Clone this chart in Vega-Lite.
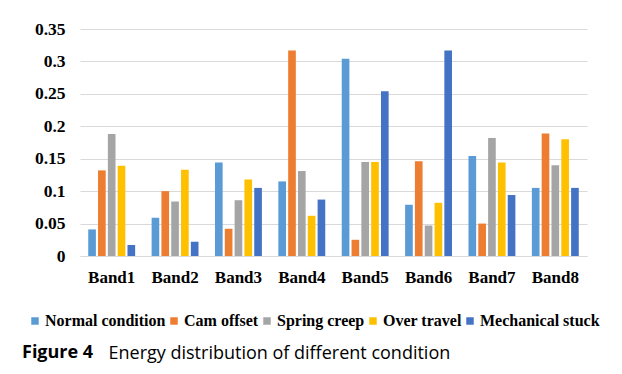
{
  "$schema": "https://vega.github.io/schema/vega-lite/v6.json",
  "width": 507,
  "height": 227,
  "autosize": "none",
  "padding": {"left": 80, "top": 29, "right": 35, "bottom": 118},
  "background": "white",
  "data": {
    "values": [
      {"band": "Band1", "condition": "Normal condition", "value": 0.041},
      {"band": "Band1", "condition": "Cam offset", "value": 0.132},
      {"band": "Band1", "condition": "Spring creep", "value": 0.188},
      {"band": "Band1", "condition": "Over travel", "value": 0.139},
      {"band": "Band1", "condition": "Mechanical stuck", "value": 0.017},
      {"band": "Band2", "condition": "Normal condition", "value": 0.059},
      {"band": "Band2", "condition": "Cam offset", "value": 0.100},
      {"band": "Band2", "condition": "Spring creep", "value": 0.084},
      {"band": "Band2", "condition": "Over travel", "value": 0.133},
      {"band": "Band2", "condition": "Mechanical stuck", "value": 0.022},
      {"band": "Band3", "condition": "Normal condition", "value": 0.144},
      {"band": "Band3", "condition": "Cam offset", "value": 0.042},
      {"band": "Band3", "condition": "Spring creep", "value": 0.086},
      {"band": "Band3", "condition": "Over travel", "value": 0.118},
      {"band": "Band3", "condition": "Mechanical stuck", "value": 0.105},
      {"band": "Band4", "condition": "Normal condition", "value": 0.115},
      {"band": "Band4", "condition": "Cam offset", "value": 0.317},
      {"band": "Band4", "condition": "Spring creep", "value": 0.131},
      {"band": "Band4", "condition": "Over travel", "value": 0.062},
      {"band": "Band4", "condition": "Mechanical stuck", "value": 0.087},
      {"band": "Band5", "condition": "Normal condition", "value": 0.304},
      {"band": "Band5", "condition": "Cam offset", "value": 0.025},
      {"band": "Band5", "condition": "Spring creep", "value": 0.145},
      {"band": "Band5", "condition": "Over travel", "value": 0.145},
      {"band": "Band5", "condition": "Mechanical stuck", "value": 0.254},
      {"band": "Band6", "condition": "Normal condition", "value": 0.079},
      {"band": "Band6", "condition": "Cam offset", "value": 0.146},
      {"band": "Band6", "condition": "Spring creep", "value": 0.047},
      {"band": "Band6", "condition": "Over travel", "value": 0.082},
      {"band": "Band6", "condition": "Mechanical stuck", "value": 0.317},
      {"band": "Band7", "condition": "Normal condition", "value": 0.154},
      {"band": "Band7", "condition": "Cam offset", "value": 0.050},
      {"band": "Band7", "condition": "Spring creep", "value": 0.182},
      {"band": "Band7", "condition": "Over travel", "value": 0.144},
      {"band": "Band7", "condition": "Mechanical stuck", "value": 0.094},
      {"band": "Band8", "condition": "Normal condition", "value": 0.105},
      {"band": "Band8", "condition": "Cam offset", "value": 0.189},
      {"band": "Band8", "condition": "Spring creep", "value": 0.140},
      {"band": "Band8", "condition": "Over travel", "value": 0.180},
      {"band": "Band8", "condition": "Mechanical stuck", "value": 0.105}
    ]
  },
  "title": {
    "text": "Figure 4",
    "orient": "bottom",
    "anchor": "start",
    "frame": "group",
    "dx": -58,
    "offset": -18,
    "font": "Open Sans",
    "fontSize": 18,
    "fontWeight": "bold",
    "color": "#000000"
  },
  "mark": {"type": "bar"},
  "encoding": {
    "x": {
      "field": "band",
      "type": "nominal",
      "sort": null,
      "scale": {"paddingInner": 0.26, "paddingOuter": 0.13},
      "axis": {
        "title": "Energy distribution of different condition",
        "titleFont": "Open Sans",
        "titleFontSize": 18,
        "titleFontWeight": "normal",
        "titleColor": "#000000",
        "titleAnchor": "start",
        "titleAlign": "left",
        "titleBaseline": "middle",
        "titleX": 28,
        "titleY": 97,
        "labelAngle": 0,
        "labelFont": "Liberation Serif",
        "labelFontSize": 17,
        "labelFontWeight": "bold",
        "labelColor": "#000000",
        "labelPadding": 13,
        "ticks": false,
        "domain": true,
        "domainColor": "#d9d9d9",
        "grid": false
      }
    },
    "xOffset": {
      "field": "condition",
      "type": "nominal",
      "sort": ["Normal condition", "Cam offset", "Spring creep", "Over travel", "Mechanical stuck"],
      "scale": {"paddingInner": 0.22}
    },
    "y": {
      "field": "value",
      "type": "quantitative",
      "scale": {"domain": [0, 0.35], "nice": false},
      "axis": {
        "title": null,
        "values": [0, 0.05, 0.1, 0.15, 0.2, 0.25, 0.3, 0.35],
        "labelExpr": "datum.value == 0 ? '0' : format(datum.value, '.2~f')",
        "labelFont": "Liberation Serif",
        "labelFontSize": 17.5,
        "labelFontWeight": "bold",
        "labelColor": "#000000",
        "labelPadding": 15,
        "ticks": false,
        "domain": false,
        "gridColor": "#d9d9d9",
        "gridWidth": 1
      }
    },
    "color": {
      "field": "condition",
      "type": "nominal",
      "sort": ["Normal condition", "Cam offset", "Spring creep", "Over travel", "Mechanical stuck"],
      "scale": {
        "domain": ["Normal condition", "Cam offset", "Spring creep", "Over travel", "Mechanical stuck"],
        "range": ["#5B9BD5", "#ED7D31", "#A5A5A5", "#FFC000", "#4472C4"]
      },
      "legend": {
        "title": null,
        "orient": "none",
        "legendX": -53,
        "legendY": 284,
        "direction": "horizontal",
        "symbolType": "square",
        "symbolSize": 56,
        "symbolStrokeWidth": 0,
        "labelFont": "Liberation Serif",
        "labelFontSize": 16,
        "labelFontWeight": "bold",
        "labelColor": "#000000",
        "columnPadding": 0,
        "labelOffset": 2
      }
    }
  },
  "config": {
    "view": {"stroke": null}
  }
}
